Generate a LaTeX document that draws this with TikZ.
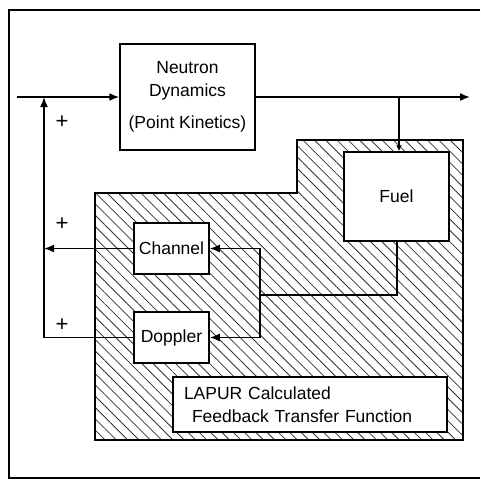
\documentclass[tikz,border=0pt]{standalone}
\usepackage{fontspec}
\setmainfont{Liberation Sans}
\usetikzlibrary{arrows.meta,patterns.meta}
\begin{document}
\begin{tikzpicture}[x=1pt,y=-1pt,
  every node/.style={font=\fontsize{17.5}{23}\selectfont},
  blk/.style={draw,line width=1.5pt,fill=white,inner sep=0pt},
  wire/.style={line width=1.6pt},
  arr/.style={wire,-{Latex[length=10pt,width=8pt]}},
  plus/.style={font=\fontsize{22}{22}\selectfont},
  hatch/.style={draw,line width=1.6pt,pattern={Lines[angle=-45,distance=8pt,line width=0.8pt]},pattern color=black!80}]
\useasboundingbox (0,0) rectangle (480,482);
% outer frame
\draw[line width=1.6pt] (480,10) -- (9,10) -- (9,478) -- (480,478);
% hatched region
\draw[hatch] (95,193) -- (297,193) -- (297,140) -- (463,140) -- (463,440) -- (95,440) -- cycle;
% blocks
\node[blk,minimum width=135pt,minimum height=106pt,align=center] (nd) at (187.5,97)
  {Neutron\\Dynamics\\[9pt](Point Kinetics)};
\node[blk,minimum width=105pt,minimum height=89pt] (fuel) at (396.5,196.5) {Fuel};
\node[blk,minimum width=75pt,minimum height=51pt] (chan) at (171.5,248.5) {Channel};
\node[blk,minimum width=75pt,minimum height=51pt] (dopp) at (171.5,337.5) {Doppler};
\node[blk,minimum width=274pt,minimum height=55pt,text width=252pt,align=left] (lapur) at (310,404.5)
  {LAPUR Calculated\\\hspace*{8pt}Feedback Transfer Function};
% coordinates
\coordinate (in) at (17,97);
\coordinate (j) at (44,97);
\coordinate (out) at (470,97);
\coordinate (b) at (399,97);
\coordinate (fo) at (397,241);
\coordinate (sp) at (260,295);
% forward path
\draw[arr] (in) -- (nd.west);
\draw[arr] (nd.east) -- (out);
\draw[wire,-{Latex[length=6pt,width=6pt]}] (b) -- (b |- fuel.north);
% fuel outputs
\draw[wire] (fo) |- (sp);
\draw[arr] (sp) |- (chan.east);
\draw[arr] (sp) |- (dopp.east);
% feedback
\draw[arr] (chan.west) -- (chan.west -| j);
\draw[arr] (dopp.west) -| (j);
% plus signs
\node[plus] (p1) at (62,122) {+};
\node[plus] (p2) at (62,224) {+};
\node[plus] (p3) at (62,325) {+};
\end{tikzpicture}
\end{document}
